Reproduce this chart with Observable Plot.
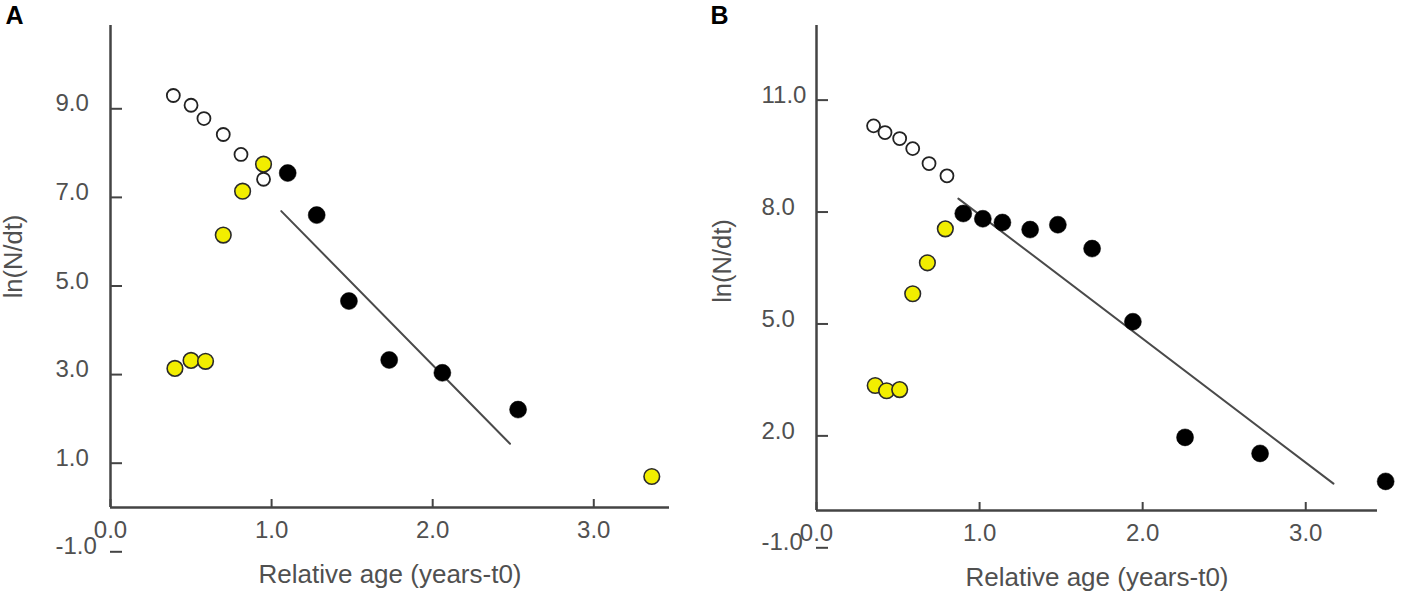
<!DOCTYPE html>
<html>
<head>
<meta charset="utf-8">
<script src="https://cdn.jsdelivr.net/npm/d3@7"></script>
<script src="https://cdn.jsdelivr.net/npm/@observablehq/plot@0.6"></script>
<style>
  body { margin: 0; background: #fff; }
  #wrap { position: relative; width: 1403px; height: 599px; overflow: hidden; }
  .panel { position: absolute; top: 0; }
</style>
</head>
<body>
<div id="wrap">
  <div id="pa" class="panel" style="left:0px"></div>
  <div id="pb" class="panel" style="left:703px"></div>
</div>
<script>
// ---------- Data: panel A ----------
const aOpenX   = [0.39, 0.50, 0.58, 0.70, 0.81, 0.95];
const aOpenY   = [9.30, 9.08, 8.78, 8.42, 7.97, 7.41];
const aYellowX = [0.40, 0.50, 0.59, 0.70, 0.82, 0.95, 3.36];
const aYellowY = [3.14, 3.32, 3.30, 6.15, 7.14, 7.75, 0.70];
const aBlackX  = [1.10, 1.28, 1.48, 1.73, 2.06, 2.53];
const aBlackY  = [7.55, 6.60, 4.66, 3.33, 3.04, 2.21];
const aLineX   = [1.06, 2.48];
const aLineY   = [6.69, 1.44];
const aYTicks  = [-1, 1, 3, 5, 7, 9];

// ---------- Data: panel B ----------
const bOpenX   = [0.35, 0.42, 0.51, 0.59, 0.69, 0.80];
const bOpenY   = [10.31, 10.13, 9.97, 9.70, 9.30, 8.97];
const bYellowX = [0.36, 0.43, 0.51, 0.59, 0.68, 0.79];
const bYellowY = [3.35, 3.21, 3.24, 5.81, 6.64, 7.55];
const bBlackX  = [0.90, 1.02, 1.14, 1.31, 1.48, 1.69, 1.94, 2.26, 2.72, 3.49];
const bBlackY  = [7.96, 7.82, 7.72, 7.53, 7.66, 7.02, 5.06, 1.96, 1.53, 0.78];
const bLineX   = [0.87, 3.17];
const bLineY   = [8.36, 0.72];
const bYTicks  = [-1, 2, 5, 8, 11];

// ---------- Shared ----------
const xTicks = [0, 1, 2, 3];
const xTitle = "Relative age (years-t0)";
const yTitle = "ln(N/dt)";

const zip = (xs, ys) => xs.map((x, i) => ({x, y: ys[i]}));
const FONT = "'Liberation Sans', Arial, Helvetica, sans-serif";
const AXIS = "#444";
const TXT = "#505050";

function panel(cfg) {
  const W = 700, H = 599;
  const pxX = (W - cfg.ml - cfg.mr) / cfg.xMax;
  const pxY = (H - cfg.mt - cfg.mb) / cfg.yMax;
  const yTickLen = 12 / pxX;
  const xTickLen = 8 / pxY;
  return Plot.plot({
    width: W, height: H,
    marginLeft: cfg.ml, marginRight: cfg.mr, marginTop: cfg.mt, marginBottom: cfg.mb,
    x: {domain: [0, cfg.xMax], axis: null},
    y: {domain: [0, cfg.yMax], axis: null},
    style: {fontFamily: FONT, background: "#fff", overflow: "visible"},
    marks: [
      // axis lines
      Plot.ruleX([0], {y1: 0, y2: cfg.yMax, stroke: AXIS, strokeWidth: 2.5}),
      Plot.ruleY([0], {x1: 0, x2: cfg.xMax, stroke: AXIS, strokeWidth: 2.5}),
      // inward tick marks
      Plot.ruleY(cfg.yTicks, {y: d => d, x1: 0, x2: yTickLen, stroke: AXIS, strokeWidth: 2}),
      Plot.ruleX(xTicks, {x: d => d, y1: 0, y2: xTickLen, stroke: AXIS, strokeWidth: 2}),
      // tick labels
      Plot.text(cfg.yTicks, {x: 0, y: d => d, text: d => d.toFixed(1), dx: -55, dy: -5,
        textAnchor: "start", lineAnchor: "middle", fontSize: 24, fill: TXT}),
      Plot.text(xTicks, {x: d => d, y: 0, text: d => d.toFixed(1), dy: 23,
        textAnchor: "middle", lineAnchor: "middle", fontSize: 24, fill: TXT}),
      // axis titles
      Plot.text([xTitle], {frameAnchor: "bottom", text: d => d, dy: 67,
        lineAnchor: "middle", fontSize: 26, fill: TXT}),
      Plot.text([yTitle], {frameAnchor: "left", text: d => d, rotate: -90,
        dx: cfg.ytDx, dy: cfg.ytDy, textAnchor: "middle", lineAnchor: "middle", fontSize: 25.5, fill: TXT}),
      // panel letter
      Plot.text([cfg.letter], {frameAnchor: "top-left", text: d => d, dx: cfg.lDx, dy: -10,
        textAnchor: "middle", lineAnchor: "middle", fontSize: 25, fontWeight: "bold", fill: "#000"}),
      // regression line
      Plot.line(zip(cfg.lineX, cfg.lineY), {x: "x", y: "y", stroke: "#4a4a4a", strokeWidth: 2}),
      // points
      Plot.dot(zip(cfg.yellowX, cfg.yellowY), {x: "x", y: "y", r: 7.8, fill: "#f2ee00", stroke: "#2a2a2a", strokeWidth: 1.6}),
      Plot.dot(zip(cfg.openX, cfg.openY), {x: "x", y: "y", r: 6.5, fill: "#fff", stroke: "#222", strokeWidth: 1.8}),
      Plot.dot(zip(cfg.blackX, cfg.blackY), {x: "x", y: "y", r: 8.5, fill: "#000", stroke: "#000", strokeWidth: 0.5})
    ]
  });
}

document.getElementById("pa").append(panel({
  letter: "A", ml: 110, mr: 31, mt: 25, mb: 92, xMax: 3.47, yMax: 10.88,
  yTicks: aYTicks, ytDx: -97, ytDy: -10, lDx: -96,
  openX: aOpenX, openY: aOpenY, yellowX: aYellowX, yellowY: aYellowY,
  blackX: aBlackX, blackY: aBlackY, lineX: aLineX, lineY: aLineY
}));

document.getElementById("pb").append(panel({
  letter: "B", ml: 113, mr: 26, mt: 25, mb: 89, xMax: 3.44, yMax: 13.0,
  yTicks: bYTicks, ytDx: -94, ytDy: -7, lDx: -97,
  openX: bOpenX, openY: bOpenY, yellowX: bYellowX, yellowY: bYellowY,
  blackX: bBlackX, blackY: bBlackY, lineX: bLineX, lineY: bLineY
}));
</script>
</body>
</html>
